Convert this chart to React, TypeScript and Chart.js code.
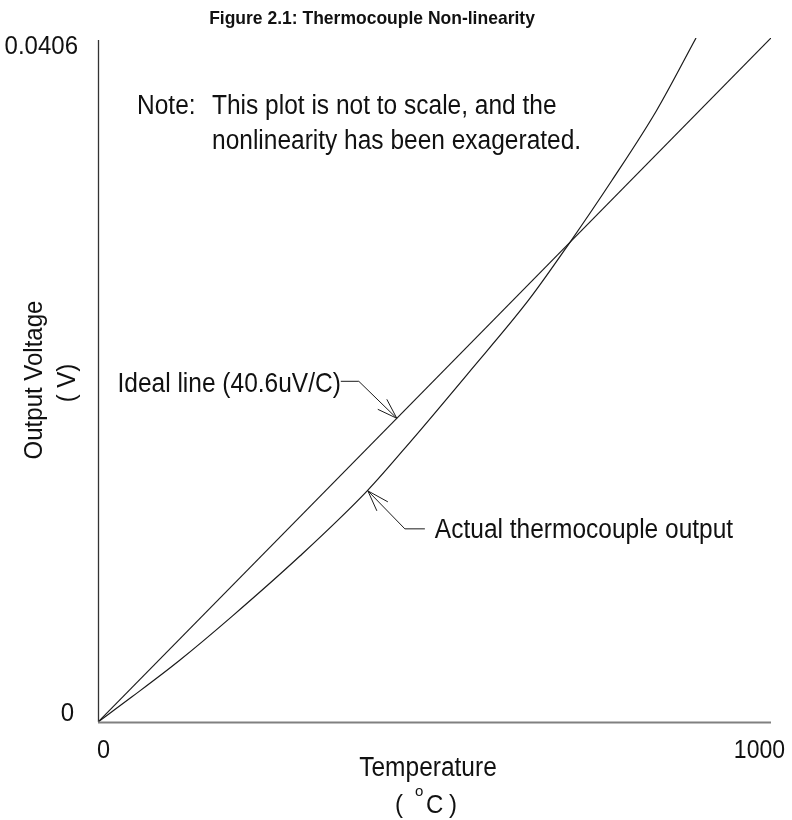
import React, { useEffect, useRef } from "react";
import { Chart, registerables } from "chart.js";

Chart.register(...registerables);

// Temperature (°C) and voltage (V)
const idealT = [0, 1000];
const idealV = [0, 0.0406];

const actualT = [0, 50, 120, 200, 300, 400, 466, 550, 640, 700, 764, 830, 888.6];
const actualV = [0, 0.00148, 0.00362, 0.0063, 0.00985, 0.01372, 0.01672, 0.0207, 0.02505, 0.0284, 0.03217, 0.0363, 0.0406];

const xTicks = [0, 1000];
const yTicks = [0, 0.0406];
const xTickLabels = ["0", "1000"];
const yTickLabels = ["0", "0.0406"];

const TITLE = "Figure 2.1: Thermocouple Non-linearity";
const NOTE = ["Note:", "This plot is not to scale, and the", "nonlinearity has been exagerated."];
const IDEAL_LABEL = "Ideal line (40.6uV/C)";
const ACTUAL_LABEL = "Actual thermocouple output";
const IDEAL_TIP_T = 444;
const ACTUAL_TIP_T = 401;
const ACTUAL_TIP_V = 0.01372;

const FONT = '"Liberation Sans", Arial, Helvetica, sans-serif';
const SY = 1.1;
const INK = "#111111";

function txt(ctx: CanvasRenderingContext2D, s: string, x: number, y: number, size: number, align: CanvasTextAlign = "left", bold = false, rotate = false, sy = SY) {
  ctx.save();
  ctx.translate(x, y);
  if (rotate) ctx.rotate(-Math.PI / 2);
  ctx.scale(1, sy);
  ctx.font = `${bold ? "bold " : ""}${size}px ${FONT}`;
  ctx.textAlign = align;
  ctx.textBaseline = "alphabetic";
  ctx.fillStyle = INK;
  ctx.fillText(s, 0, 0);
  ctx.restore();
}

function seg(ctx: CanvasRenderingContext2D, pts: number[][], color = "#1a1a1a", w = 1) {
  ctx.save();
  ctx.strokeStyle = color;
  ctx.lineWidth = w;
  ctx.beginPath();
  ctx.moveTo(pts[0][0], pts[0][1]);
  for (let i = 1; i < pts.length; i++) ctx.lineTo(pts[i][0], pts[i][1]);
  ctx.stroke();
  ctx.restore();
}

const decorPlugin = {
  id: "decor",
  afterDraw(chart: any) {
    const ctx: CanvasRenderingContext2D = chart.ctx;
    const xs = chart.scales.x;
    const ys = chart.scales.y;
    const x0 = xs.getPixelForValue(0);
    const x1 = xs.getPixelForValue(1000);
    const y0 = ys.getPixelForValue(0);
    const yTop = ys.getPixelForValue(0.0406);

    // axes
    seg(ctx, [[x0 + 0.5, yTop + 2], [x0 + 0.5, y0]], "#333333", 1.3);
    seg(ctx, [[x0, y0 + 0.5], [x1, y0 + 0.5]], "#808080", 2);

    // tick labels
    txt(ctx, yTickLabels[1], x0 - 20, ys.getPixelForValue(yTicks[1]) + 16, 24, "right");
    txt(ctx, yTickLabels[0], x0 - 24, ys.getPixelForValue(yTicks[0]) - 1, 24, "right");
    txt(ctx, xTickLabels[0], xs.getPixelForValue(xTicks[0]) - 1, y0 + 36, 23.5, "left");
    txt(ctx, xTickLabels[1], xs.getPixelForValue(xTicks[1]) + 14, y0 + 36, 23, "right");

    // title
    txt(ctx, TITLE, 372, 24, 17.5, "center", true);

    // note
    txt(ctx, NOTE[0], 137, 114, 24.5, "left");
    txt(ctx, NOTE[1], 212, 114, 24.5, "left");
    txt(ctx, NOTE[2], 212, 149, 24.5, "left");

    // axis titles
    txt(ctx, "Temperature", 428, 776, 24.5, "center");
    txt(ctx, "(", 395, 813, 24, "left");
    txt(ctx, "o", 415, 796, 15, "left", false, false, 1.0);
    txt(ctx, "C", 426, 813, 24, "left");
    txt(ctx, ")", 449, 813, 24, "left");
    txt(ctx, "Output Voltage", 42, 380, 24, "center", false, true);
    txt(ctx, "( V)", 75, 383, 24, "center", false, true);

    // ideal line callout
    const it = [xs.getPixelForValue(IDEAL_TIP_T), ys.getPixelForValue((idealV[1] * IDEAL_TIP_T) / idealT[1])];
    const ie = [it[0] - 38, it[1] - 37];
    seg(ctx, [[ie[0] - 18, ie[1]], ie, it]);
    seg(ctx, [[it[0] - 19, it[1] - 9], it, [it[0] - 10, it[1] - 19]]);
    txt(ctx, IDEAL_LABEL, ie[0] - 18, ie[1] + 11, 24.5, "right");

    // actual callout
    const at = [xs.getPixelForValue(ACTUAL_TIP_T), ys.getPixelForValue(ACTUAL_TIP_V)];
    const ae = [at[0] + 37, at[1] + 38];
    seg(ctx, [at, ae, [ae[0] + 20, ae[1]]]);
    seg(ctx, [[at[0] + 20, at[1] + 11], at, [at[0] + 9, at[1] + 20]]);
    txt(ctx, ACTUAL_LABEL, ae[0] + 30, ae[1] + 9, 24.5, "left");
  },
};

export default function App() {
  const ref = useRef<HTMLCanvasElement>(null);
  useEffect(() => {
    if (!ref.current) return;
    const chart = new Chart(ref.current, {
      type: "line",
      data: {
        datasets: [
          {
            label: "Ideal",
            data: idealT.map((t, i) => ({ x: t, y: idealV[i] })),
            borderColor: "#1a1a1a",
            borderWidth: 1.2,
            pointRadius: 0,
            fill: false,
          },
          {
            label: "Actual",
            data: actualT.map((t, i) => ({ x: t, y: actualV[i] })),
            borderColor: "#1a1a1a",
            borderWidth: 1.2,
            pointRadius: 0,
            fill: false,
            cubicInterpolationMode: "monotone",
          },
        ],
      },
      options: {
        responsive: false,
        animation: false,
        layout: { padding: { left: 98, right: 21, top: 38, bottom: 98 } },
        plugins: { legend: { display: false }, tooltip: { enabled: false } },
        scales: {
          x: { type: "linear", min: 0, max: 1000, display: false },
          y: { type: "linear", min: 0, max: 0.0406, display: false },
        },
      },
      plugins: [decorPlugin],
    } as any);
    return () => chart.destroy();
  }, []);
  return (
    <div style={{ position: "absolute", left: 0, top: 0, width: 792, height: 820, background: "#fff" }}>
      <canvas ref={ref} width={792} height={820} />
    </div>
  );
}
